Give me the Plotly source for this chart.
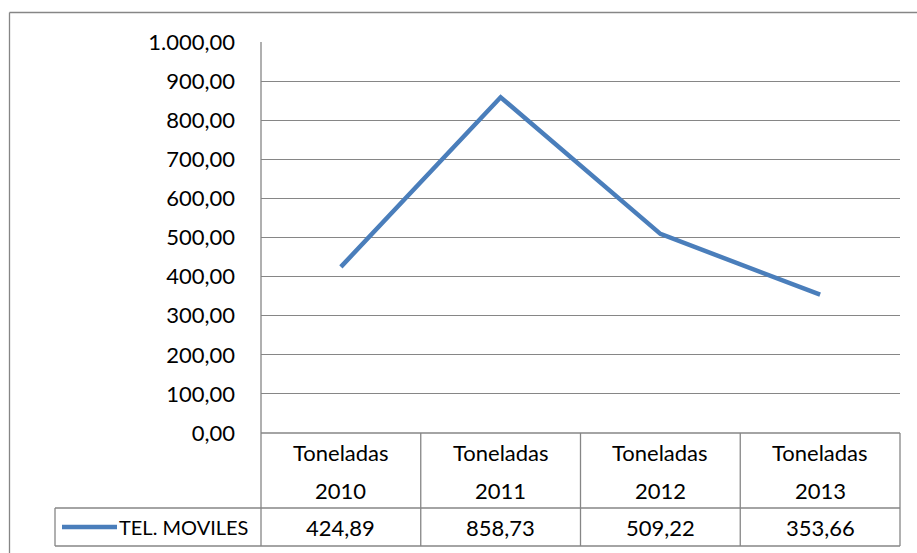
import plotly.graph_objects as go

years = ["2010", "2011", "2012", "2013"]
header_word = "Toneladas"
series_name = "TEL. MOVILES"
values = [424.89, 858.73, 509.22, 353.66]
y_ticks = [0, 100, 200, 300, 400, 500, 600, 700, 800, 900, 1000]

W, H = 917, 553
FONT = "Lato"
FS = 22
GRID = "#868686"
LINE = "#4a7ebb"

# pixel layout helpers (positions only)
px_left, px_right, px_top, px_bottom = 261, 900, 42, 433
def X(px): return px / W
def Y(py): return (H - py) / H

fig = go.Figure()
x_idx = list(range(len(values)))
fig.add_trace(go.Scatter(x=x_idx, y=values, mode="lines",
                         line=dict(color=LINE, width=4.5), name=series_name,
                         showlegend=False))

fig.update_layout(
    width=W, height=H, margin=dict(l=0, r=0, t=0, b=0, autoexpand=False),
    paper_bgcolor="white", plot_bgcolor="white",
    separators=",.", showlegend=False,
    font=dict(family=FONT, size=FS, color="#000000"),
    xaxis=dict(domain=[X(px_left), X(px_right)], range=[-0.5, len(values) - 0.5],
               showticklabels=False, showgrid=False, zeroline=False, showline=False,
               automargin=False),
    yaxis=dict(domain=[Y(px_bottom), Y(px_top)], range=[0, 1000],
               tickvals=y_ticks, tickformat=",.2f", showgrid=True,
               gridcolor=GRID, gridwidth=1.3, zeroline=False, showline=False,
               ticks="", ticklabelstandoff=25, automargin=False,
               tickfont=dict(family=FONT, size=FS)),
)

shapes = []
def hline(x0, x1, y):
    shapes.append(dict(type="line", xref="paper", yref="paper",
                       x0=X(x0), x1=X(x1), y0=Y(y), y1=Y(y),
                       line=dict(color=GRID, width=1.3)))
def vline(x, y0, y1):
    shapes.append(dict(type="line", xref="paper", yref="paper",
                       x0=X(x), x1=X(x), y0=Y(y0), y1=Y(y1),
                       line=dict(color=GRID, width=1.3)))

# outer chart border (cropped right/bottom)
hline(9.5, 917, 12.5)
vline(9.5, 12.5, 553)

# table lines
col_w = (px_right - px_left) / len(values)
row1_bottom, row2_bottom = 508, 546
legend_left = 55
hline(px_left, px_right, px_bottom)
hline(legend_left, px_right, row1_bottom)
hline(legend_left, px_right, row2_bottom)
vline(px_left, px_top, row2_bottom)
for i in range(1, len(values) + 1):
    vline(px_left + i * col_w, px_bottom, row2_bottom)
vline(legend_left, row1_bottom, row2_bottom)

# legend key line
shapes.append(dict(type="line", xref="paper", yref="paper",
                   x0=X(62), x1=X(117), y0=Y(527), y1=Y(527),
                   line=dict(color=LINE, width=4.5)))
fig.update_layout(shapes=shapes)

def fmt(v):
    return f"{v:,.2f}".replace(",", "X").replace(".", ",").replace("X", ".")

annotations = []
for i, (yr, v) in enumerate(zip(years, values)):
    cx = X(px_left + (i + 0.5) * col_w)
    annotations.append(dict(x=cx, y=Y(452), xref="paper", yref="paper",
                            text=header_word, showarrow=False,
                            xanchor="center", yanchor="middle"))
    annotations.append(dict(x=cx, y=Y(490), xref="paper", yref="paper",
                            text=yr, showarrow=False,
                            xanchor="center", yanchor="middle"))
    annotations.append(dict(x=cx, y=Y(527), xref="paper", yref="paper",
                            text=fmt(v), showarrow=False,
                            xanchor="center", yanchor="middle"))
annotations.append(dict(x=X(117), y=Y(527), xref="paper", yref="paper",
                        text=series_name, showarrow=False,
                        font=dict(family=FONT, size=20),
                        xanchor="left", yanchor="middle"))
fig.update_layout(annotations=annotations)

fig.write_html("out.html", config={"displayModeBar": False},
               post_script="document.body.style.margin='0';document.body.style.overflow='hidden';")
